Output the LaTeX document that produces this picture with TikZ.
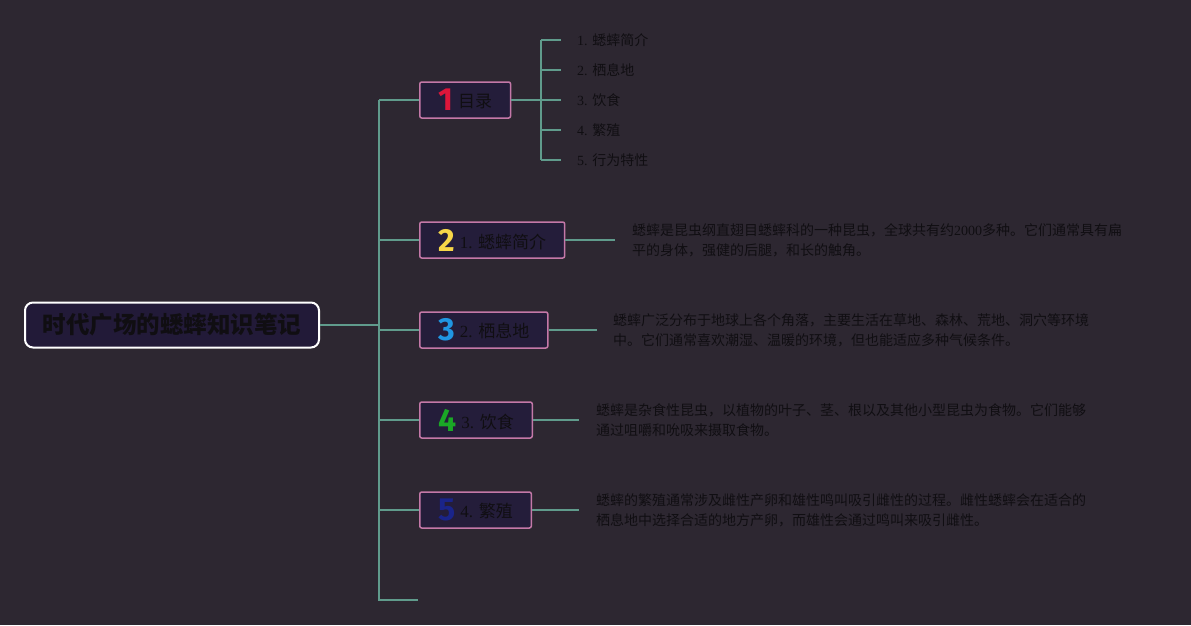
\documentclass[tikz,border=0pt]{standalone}
\usepackage{fontspec}
\setmainfont{Liberation Serif}
\newfontfamily\cjk{Noto Sans CJK SC}
\newfontfamily\numfont{Fira Sans}
\definecolor{bgc}{RGB}{45,39,49}
\definecolor{boxfill}{RGB}{36,29,58}
\definecolor{rootfill}{RGB}{34,26,56}
\definecolor{boxborder}{RGB}{196,120,168}
\definecolor{linkteal}{RGB}{96,155,140}
\definecolor{inkc}{RGB}{16,14,18}
\definecolor{numred}{RGB}{222,22,58}
\definecolor{numyellow}{RGB}{246,214,72}
\definecolor{numblue}{RGB}{32,150,226}
\definecolor{numgreen}{RGB}{26,168,38}
\definecolor{numnavy}{RGB}{26,36,138}
\newcommand\branchtag[3]{{\numfont\bfseries\fontsize{32}{32}\selectfont\color{#1}#2}\hspace{5pt}\raisebox{3pt}{#3}}
\begin{document}
\begin{tikzpicture}[x=1pt,y=-1pt,
    branchbox/.style={draw=boxborder,line width=1.5pt,fill=boxfill,rounded corners=2pt,
      minimum height=36pt,inner xsep=18.5pt,inner ysep=0pt,anchor=west,text=inkc,
      font=\fontsize{17}{20}\selectfont},
    link/.style={draw=linkteal,line width=1.5pt},
    subitem/.style={anchor=west,inner xsep=16pt,inner ysep=0pt,text=inkc,
      font=\fontsize{14}{18}\selectfont},
    note/.style={anchor=west,align=left,inner xsep=17pt,inner ysep=0pt,text=inkc,
      font=\cjk\fontsize{14}{20}\selectfont}]
  \fill[bgc] (0,0) rectangle (1191,625);
  \useasboundingbox (0,0) rectangle (1191,625);

  \node[draw=white,line width=2pt,fill=rootfill,rounded corners=8pt,minimum width=294pt,
    minimum height=45pt,text=inkc,font=\cjk\bfseries\fontsize{23.5}{26}\selectfont]
    (root) at (172,325) {时代广场的蟋蟀知识笔记};
  \coordinate (trunktop) at (379,100);
  \coordinate (trunkbot) at (379,600);
  \coordinate (spare) at (418,600);

  \node[branchbox] (b1) at (419,100) {\branchtag{numred}{1}{\cjk 目录}};
  \node[branchbox] (b2) at (419,240) {\branchtag{numyellow}{2}{1. {\cjk 蟋蟀简介}}};
  \node[branchbox] (b3) at (419,330) {\branchtag{numblue}{3}{2. {\cjk 栖息地}}};
  \node[branchbox] (b4) at (419,420) {\branchtag{numgreen}{4}{3. {\cjk 饮食}}};
  \node[branchbox] (b5) at (419,510) {\branchtag{numnavy}{5}{4. {\cjk 繁殖}}};

  \draw[link] (root.east) -- (root.east -| trunktop);
  \draw[link] (trunktop) -- (trunkbot) -- (spare);
  \foreach \i in {1,...,5}
    \draw[link] (b\i.west -| trunktop) -- (b\i.west);

  \coordinate (subtrunk) at (541,100);
  \foreach \i/\t [count=\k] in {1/蟋蟀简介,2/栖息地,3/饮食,4/繁殖,5/行为特性}
    \node[subitem] (s\k) at (561,10+30*\k) {\i. {\cjk \t}};
  \draw[link] (b1.east) -- (b1.east -| subtrunk);
  \draw[link] (s1.west -| subtrunk) -- (s5.west -| subtrunk);
  \foreach \k in {1,...,5}
    \draw[link] (s\k.west -| subtrunk) -- (s\k.west);

  \node[note] (d2) at (615,240) {蟋蟀是昆虫纲直翅目蟋蟀科的一种昆虫，全球共有约{\rmfamily 2000}多种。它们通常具有扁\\平的身体，强健的后腿，和长的触角。};
  \node[note,inner xsep=16pt] (d3) at (597,330) {蟋蟀广泛分布于地球上各个角落，主要生活在草地、森林、荒地、洞穴等环境\\中。它们通常喜欢潮湿、温暖的环境，但也能适应多种气候条件。};
  \node[note] (d4) at (579,420) {蟋蟀是杂食性昆虫，以植物的叶子、茎、根以及其他小型昆虫为食物。它们能够\\通过咀嚼和吮吸来摄取食物。};
  \node[note] (d5) at (579,510) {蟋蟀的繁殖通常涉及雌性产卵和雄性鸣叫吸引雌性的过程。雌性蟋蟀会在适合的\\栖息地中选择合适的地方产卵，而雄性会通过鸣叫来吸引雌性。};
  \foreach \i in {2,...,5}
    \draw[link] (b\i.east) -- (d\i.west);
\end{tikzpicture}
\end{document}
